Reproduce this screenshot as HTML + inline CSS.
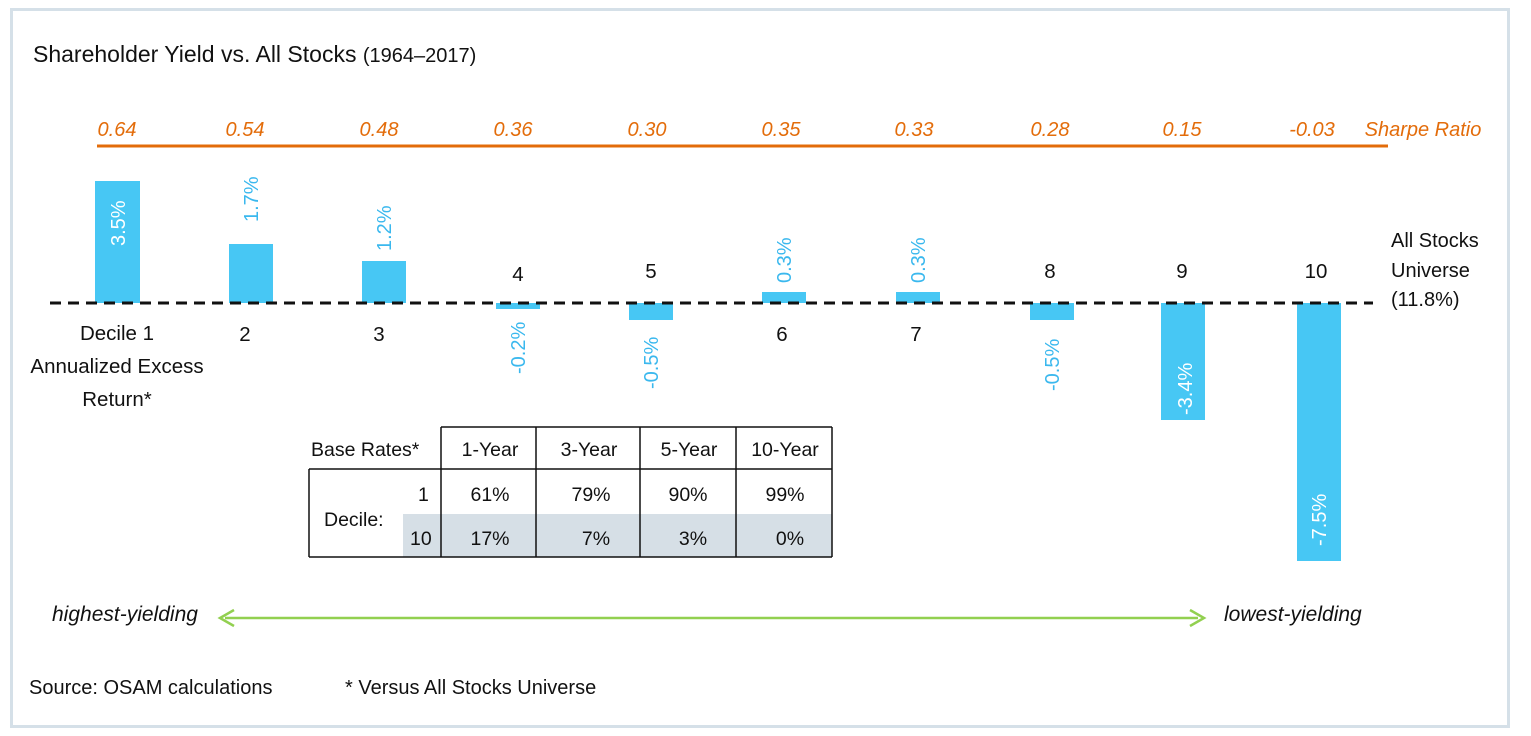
<!DOCTYPE html>
<html><head><meta charset="utf-8"><style>
html,body{margin:0;padding:0;background:#fff;}
svg{display:block;font-family:"Liberation Sans",sans-serif;}
</style></head><body>
<svg width="1531" height="736" viewBox="0 0 1531 736" xmlns="http://www.w3.org/2000/svg">
<rect x="11.5" y="9.5" width="1497" height="717" fill="#fff" stroke="#d5e0e8" stroke-width="3"/>
<text x="33" y="62" font-size="23" fill="#111">Shareholder Yield vs. All Stocks <tspan font-size="20">(1964–2017)</tspan></text>
<g font-size="20" font-style="italic" fill="#e36c0a" text-anchor="middle">
<text x="117" y="136">0.64</text><text x="245" y="136">0.54</text><text x="379" y="136">0.48</text>
<text x="513" y="136">0.36</text><text x="647" y="136">0.30</text><text x="781" y="136">0.35</text>
<text x="914" y="136">0.33</text><text x="1050" y="136">0.28</text><text x="1182" y="136">0.15</text>
<text x="1312" y="136">-0.03</text><text x="1423" y="136">Sharpe Ratio</text>
</g>
<line x1="97" y1="146" x2="1388" y2="146" stroke="#e36c0a" stroke-width="3"/>
<g fill="#47c7f4">
<rect x="95" y="181" width="45" height="122"/>
<rect x="229" y="244" width="44" height="59"/>
<rect x="362" y="261" width="44" height="42"/>
<rect x="496" y="303" width="44" height="6"/>
<rect x="629" y="303" width="44" height="17"/>
<rect x="762" y="292" width="44" height="11"/>
<rect x="896" y="292" width="44" height="11"/>
<rect x="1030" y="303" width="44" height="17"/>
<rect x="1161" y="303" width="44" height="117"/>
<rect x="1297" y="303" width="44" height="258"/>
</g>
<line x1="50" y1="303" x2="1373" y2="303" stroke="#111" stroke-width="3" stroke-dasharray="11,7"/>
<g font-size="20" fill="#3ab8ee">
<text transform="translate(125,246) rotate(-90)" fill="#fff">3.5%</text>
<text transform="translate(258,222) rotate(-90)">1.7%</text>
<text transform="translate(391,251) rotate(-90)">1.2%</text>
<text transform="translate(525,374) rotate(-90)">-0.2%</text>
<text transform="translate(658,389) rotate(-90)">-0.5%</text>
<text transform="translate(791,283) rotate(-90)">0.3%</text>
<text transform="translate(925,283) rotate(-90)">0.3%</text>
<text transform="translate(1059,391) rotate(-90)">-0.5%</text>
<text transform="translate(1192,415) rotate(-90)" fill="#fff">-3.4%</text>
<text transform="translate(1326,546) rotate(-90)" fill="#fff">-7.5%</text>
</g>
<g font-size="20.5" fill="#111" text-anchor="middle">
<text x="117" y="340">Decile 1</text><text x="117" y="373">Annualized Excess</text><text x="117" y="406">Return*</text>
<text x="245" y="341">2</text><text x="379" y="341">3</text>
<text x="518" y="281">4</text><text x="651" y="278">5</text>
<text x="782" y="341">6</text><text x="916" y="341">7</text>
<text x="1050" y="278">8</text><text x="1182" y="278">9</text><text x="1316" y="278">10</text>
</g>
<g font-size="20" fill="#111">
<text x="1391" y="247">All Stocks</text><text x="1391" y="277">Universe</text><text x="1391" y="306">(11.8%)</text>
</g>
<rect x="403" y="514" width="429" height="43" fill="#d6dfe6"/>
<g stroke="#111" stroke-width="1.5" fill="none">
<line x1="309" y1="469" x2="832" y2="469"/>
<line x1="309" y1="557" x2="832" y2="557"/>
<line x1="309" y1="469" x2="309" y2="557"/>
<line x1="441" y1="427" x2="832" y2="427"/>
<line x1="441" y1="427" x2="441" y2="557"/>
<line x1="536" y1="427" x2="536" y2="557"/>
<line x1="640" y1="427" x2="640" y2="557"/>
<line x1="736" y1="427" x2="736" y2="557"/>
<line x1="832" y1="427" x2="832" y2="557"/>
</g>
<g font-size="19.5" fill="#111">
<text x="311" y="456">Base Rates*</text>
<text x="324" y="526">Decile:</text>
<text x="418" y="501">1</text><text x="410" y="545">10</text>
</g>
<g font-size="19.5" fill="#111" text-anchor="middle">
<text x="490" y="456">1-Year</text><text x="589" y="456">3-Year</text><text x="689" y="456">5-Year</text><text x="785" y="456">10-Year</text>
<text x="490" y="501">61%</text><text x="591" y="501">79%</text><text x="688" y="501">90%</text><text x="785" y="501">99%</text>
<text x="490" y="545">17%</text><text x="596" y="545">7%</text><text x="693" y="545">3%</text><text x="790" y="545">0%</text>
</g>
<line x1="225" y1="618" x2="1198" y2="618" stroke="#92d050" stroke-width="2.5"/>
<polyline points="234,610 220,618 234,626" fill="none" stroke="#92d050" stroke-width="2.5"/>
<polyline points="1190,610 1204,618 1190,626" fill="none" stroke="#92d050" stroke-width="2.5"/>
<g font-size="21" font-style="italic" fill="#111">
<text x="52" y="621">highest-yielding</text><text x="1224" y="621">lowest-yielding</text>
</g>
<g font-size="20" fill="#111">
<text x="29" y="694">Source: OSAM calculations</text><text x="345" y="694">* Versus All Stocks Universe</text>
</g>
</svg>
</body></html>
